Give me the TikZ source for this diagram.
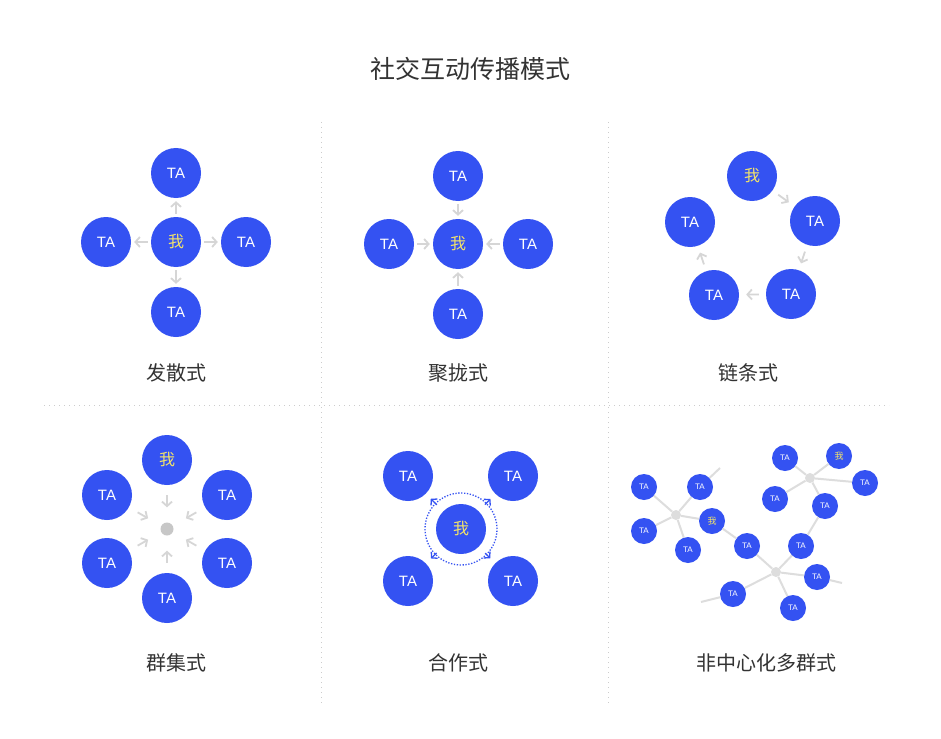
\documentclass[tikz,border=0pt]{standalone}
\usepackage{fontspec}
\setmainfont{Liberation Sans}
\newfontfamily\cjk{Noto Sans CJK SC}
\usetikzlibrary{arrows.meta}
\definecolor{tablue}{HTML}{3452F2}
\definecolor{meyellow}{HTML}{F3E46A}
\definecolor{arrgray}{HTML}{D6D6D6}
\definecolor{hubgray}{HTML}{DDDDDD}
\definecolor{sepgray}{HTML}{CCCCCC}
\definecolor{labelgray}{HTML}{333333}
\tikzset{
  ta/.style={circle, fill=tablue, minimum size=50pt, inner sep=0pt, text=white, font=\fontsize{15}{15}\selectfont},
  me/.style={ta, text=meyellow, font=\cjk\fontsize{16}{16}\selectfont},
  sta/.style={ta, minimum size=26pt, font=\fontsize{8}{8}\selectfont},
  sme/.style={sta, text=meyellow, font=\cjk\fontsize{9}{9}\selectfont},
  hub/.style={circle, fill=hubgray, minimum size=10pt, inner sep=0pt},
  arr/.style={draw=arrgray, line width=1.8pt, -{Straight Barb[length=4.5pt,width=10pt]}},
  coop/.style={draw=tablue, line width=1.3pt, -{Straight Barb[length=4pt,width=9pt]}},
  link/.style={draw=hubgray, line width=2pt},
  sep/.style={draw=sepgray, line width=0.8pt, dash pattern=on 0.8pt off 4.2pt},
  caption/.style={text=labelgray, font=\cjk\fontsize{20}{20}\selectfont},
}
\begin{document}
\begin{tikzpicture}[x=1pt,y=-1pt]
  \useasboundingbox[fill=white] (0,0) rectangle (941,738);
  \node[caption, font=\cjk\fontsize{25}{25}\selectfont] (title) at (470,69) {社交互动传播模式};
  \draw[sep] (321,122) -- (321,706);
  \draw[sep] (608,122) -- (608,706);
  \draw[sep] (44,405) -- (889,405);

  % 发散式
  \node[me] (a0) at (176,242) {我};
  \node[ta] (a1) at (176,173) {TA};
  \node[ta] (a2) at (246,242) {TA};
  \node[ta] (a3) at (176,312) {TA};
  \node[ta] (a4) at (106,242) {TA};
  \foreach \i in {1,...,4}
    \draw[arr, shorten <=3pt, shorten >=3pt] (a0) -- (a\i);
  \node[caption] (cap1) at (176,373) {发散式};

  % 聚拢式
  \node[me] (b0) at (458,244) {我};
  \node[ta] (b1) at (458,176) {TA};
  \node[ta] (b2) at (528,244) {TA};
  \node[ta] (b3) at (458,314) {TA};
  \node[ta] (b4) at (389,244) {TA};
  \foreach \i in {1,...,4}
    \draw[arr, shorten <=3pt, shorten >=3pt] (b\i) -- (b0);
  \node[caption] (cap2) at (458,373) {聚拢式};

  % 链条式
  \node[me] (c0) at (752,176) {我};
  \node[ta] (c1) at (815,221) {TA};
  \node[ta] (c2) at (791,294) {TA};
  \node[ta] (c3) at (714,295) {TA};
  \node[ta] (c4) at (690,222) {TA};
  \foreach \i/\j in {0/1,1/2,2/3,3/4}
    \draw[arr, shorten <=7pt, shorten >=7pt] (c\i) -- (c\j);
  \node[caption] (cap3) at (748,373) {链条式};

  % 群集式
  \node[hub, minimum size=13pt, fill=black!22] (d) at (167,529) {};
  \node[me] (d0) at (167,460) {我};
  \node[ta] (d1) at (227,495) {TA};
  \node[ta] (d2) at (227,563) {TA};
  \node[ta] (d3) at (167,598) {TA};
  \node[ta] (d4) at (107,563) {TA};
  \node[ta] (d5) at (107,495) {TA};
  \foreach \i in {0,...,5}
    \draw[arr, shorten <=10pt, shorten >=15pt] (d\i) -- (d);
  \node[caption] (cap4) at (176,663) {群集式};

  % 合作式
  \node[me] (e0) at (461,529) {我};
  \node[ta] (e1) at (408,476) {TA};
  \node[ta] (e2) at (513,476) {TA};
  \node[ta] (e3) at (513,581) {TA};
  \node[ta] (e4) at (408,581) {TA};
  \draw[tablue, line width=1.3pt, dash pattern=on 1.3pt off 1.6pt] (e0.center) circle (36pt);
  \foreach \i in {1,...,4}
    \draw[coop, shorten <=9pt, shorten >=7pt] (e0) -- (e\i);
  \node[caption] (cap5) at (458,663) {合作式};

  % 非中心化多群式
  \node[hub] (f) at (676,515) {};
  \node[sta] (f1) at (644,487) {TA};
  \node[sta] (f2) at (700,487) {TA};
  \node[sta] (f3) at (644,531) {TA};
  \node[sta] (f4) at (688,550) {TA};
  \node[sme] (f5) at (712,521) {我};
  \coordinate (f2end) at (720,468);
  \node[hub] (g) at (776,572) {};
  \node[sta] (g1) at (747,546) {TA};
  \node[sta] (g2) at (801,546) {TA};
  \node[sta] (g3) at (817,577) {TA};
  \node[sta] (g4) at (733,594) {TA};
  \node[sta] (g5) at (793,608) {TA};
  \coordinate (g3end) at (842,583);
  \coordinate (g4end) at (701,602);
  \node[hub] (h) at (810,478) {};
  \node[sta] (h1) at (785,458) {TA};
  \node[sme] (h2) at (839,456) {我};
  \node[sta] (h3) at (865,483) {TA};
  \node[sta] (h4) at (775,499) {TA};
  \node[sta] (h5) at (825,506) {TA};
  \foreach \n in {f,g,h}
    \foreach \i in {1,...,5}
      \draw[link] (\n) -- (\n\i);
  \draw[link] (f2) -- (f2end);
  \draw[link] (g3) -- (g3end);
  \draw[link] (g4) -- (g4end);
  \draw[link] (f5) -- (g1);
  \draw[link] (h5) -- (g2);
  \node[caption] (cap6) at (766,663) {非中心化多群式};
\end{tikzpicture}
\end{document}
